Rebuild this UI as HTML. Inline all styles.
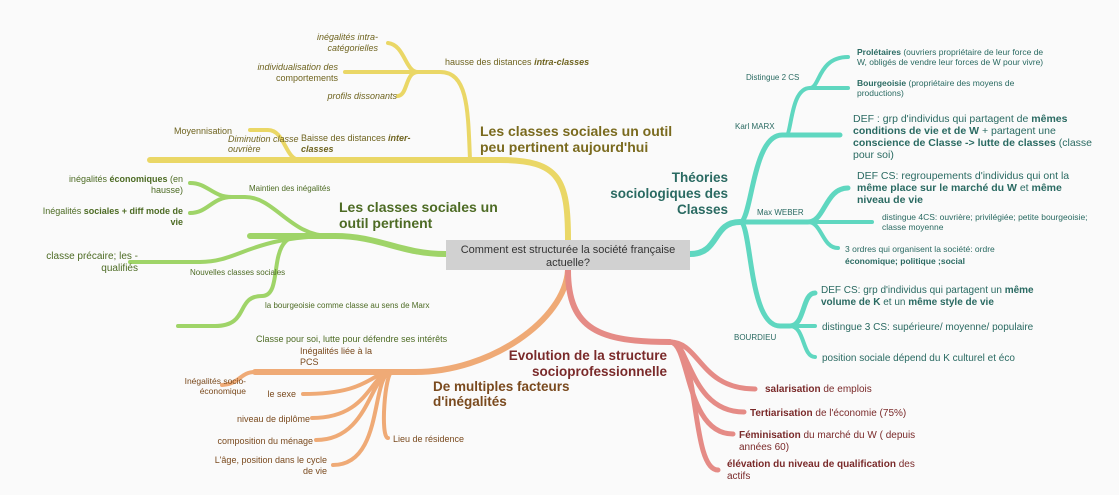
<!DOCTYPE html>
<html><head><meta charset="utf-8"><style>
html,body{margin:0;padding:0;background:#fafafa;}
svg{display:block;font-family:"Liberation Sans",sans-serif;}
</style></head><body>
<svg width="1119" height="495" viewBox="0 0 1119 495" xmlns="http://www.w3.org/2000/svg">
<rect width="1119" height="495" fill="#fafafa"/>
<g fill="none" stroke-linecap="round">
<!-- yellow -->
<g stroke="#ead766">
<path d="M568 240 C568 180 560 160 500 160 L150 160" stroke-width="6"/>
<path d="M470 160 C468 110 468 72 440 72 L412 72" stroke-width="4"/>
<path d="M418 72 C405 72 405 45 388 43" stroke-width="4"/>
<path d="M418 72 L345 72" stroke-width="4"/>
<path d="M418 72 C405 72 408 95 398 96" stroke-width="4"/>
<path d="M300 160 C285 160 285 130 268 130 L250 130" stroke-width="4"/>
</g>
<!-- green -->
<g stroke="#9fd468">
<path d="M446 254 C400 254 380 236 335 236 L250 236" stroke-width="6"/>
<path d="M330 236 C290 236 275 197 245 197 L228 197" stroke-width="4"/>
<path d="M232 197 C212 197 208 183 190 183" stroke-width="4"/>
<path d="M232 197 C212 197 208 213 190 213" stroke-width="4"/>
<path d="M335 236 C250 236 240 262 200 262 L130 262" stroke-width="4"/>
<path d="M300 236 C265 236 285 296 262 296 C235 296 250 326 215 326 L178 326" stroke-width="4"/>
</g>
<!-- orange -->
<g stroke="#efaa76">
<path d="M568 270 C565 320 490 372 415 372 L255 372" stroke-width="6"/>
<path d="M255 372 C240 372 240 384 222 385" stroke-width="4"/>
<path d="M392 372 C370 372 370 394 303 394" stroke-width="4"/>
<path d="M392 372 C370 372 370 418 312 418" stroke-width="4"/>
<path d="M392 372 C370 372 370 440 316 440" stroke-width="4"/>
<path d="M392 372 C370 372 385 465 333 465" stroke-width="4"/>
<path d="M392 372 C385 372 380 438 388 438" stroke-width="4"/>
</g>
<!-- red -->
<g stroke="#e58b86">
<path d="M568 270 C568 330 600 342 670 342" stroke-width="6"/>
<path d="M670 342 C700 342 700 389 755 389" stroke-width="5"/>
<path d="M670 342 C690 342 690 412 744 412" stroke-width="5"/>
<path d="M670 342 C690 342 685 434 733 434" stroke-width="5"/>
<path d="M670 342 C700 342 690 470 718 470" stroke-width="5"/>
</g>
<!-- teal -->
<g stroke="#5fd7c0">
<path d="M690 254 C720 254 712 222 740 222" stroke-width="6"/>
<path d="M740 222 C752 222 752 135 782 135 L840 135" stroke-width="5"/>
<path d="M786 135 C792 135 790 88 810 88 L848 88" stroke-width="4"/>
<path d="M810 88 C820 88 818 57 848 57" stroke-width="4"/>
<path d="M740 222 L808 222 C825 222 825 188 848 188" stroke-width="5"/>
<path d="M808 222 L872 222" stroke-width="4"/>
<path d="M808 222 C822 222 822 248 838 248" stroke-width="4"/>
<path d="M740 222 C752 222 748 326 780 326 L790 326 C805 326 802 293 815 293" stroke-width="5"/>
<path d="M790 326 L815 326" stroke-width="4"/>
<path d="M790 326 C805 326 802 357 815 357" stroke-width="4"/>
</g>
</g>
<!-- center -->
<rect x="446" y="240" width="244" height="30" fill="#d1d1d1"/>
<text x="568" y="253" font-size="11" fill="#333" text-anchor="middle">Comment est structurée la société française</text>
<text x="568" y="266" font-size="11" fill="#333" text-anchor="middle">actuelle?</text>

<!-- yellow text -->
<g fill="#6f6420" font-size="9">
<text x="378" y="40" text-anchor="end" font-style="italic">inégalités intra-</text>
<text x="378" y="51" text-anchor="end" font-style="italic">catégorielles</text>
<text x="338" y="70" text-anchor="end" font-style="italic">individualisation des</text>
<text x="338" y="81" text-anchor="end">comportements</text>
<text x="397" y="99" text-anchor="end" font-style="italic">profils dissonants</text>
<text x="445" y="65">hausse des distances <tspan font-weight="bold" font-style="italic">intra-classes</tspan></text>
<text x="174" y="134">Moyennisation</text>
<text x="228" y="142" font-style="italic">Diminution classe</text>
<text x="228" y="152" font-style="italic">ouvrière</text>
<text x="301" y="141">Baisse des distances <tspan font-weight="bold" font-style="italic">inter-</tspan></text>
<text x="301" y="152" font-weight="bold" font-style="italic">classes</text>
<text x="480" y="136" font-size="14" font-weight="bold" fill="#7a6a1e">Les classes sociales un outil</text>
<text x="480" y="152" font-size="14" font-weight="bold" fill="#7a6a1e">peu pertinent aujourd'hui</text>
</g>
<!-- green text -->
<g fill="#4d6b24" font-size="9">
<text x="183" y="182" text-anchor="end">inégalités <tspan font-weight="bold">économiques</tspan> (en</text>
<text x="183" y="193" text-anchor="end">hausse)</text>
<text x="183" y="214" text-anchor="end">Inégalités <tspan font-weight="bold">sociales + diff mode de</tspan></text>
<text x="183" y="225" text-anchor="end" font-weight="bold">vie</text>
<text x="249" y="191" font-size="8">Maintien des inégalités</text>
<text x="339" y="212" font-size="14" font-weight="bold">Les classes sociales un</text>
<text x="339" y="228" font-size="14" font-weight="bold">outil pertinent</text>
<text x="138" y="259" font-size="10" text-anchor="end">classe précaire; les -</text>
<text x="138" y="271" font-size="10" text-anchor="end">qualifiés</text>
<text x="190" y="275" font-size="8">Nouvelles classes sociales</text>
<text x="265" y="308" font-size="8">la bourgeoisie comme classe au sens de Marx</text>
<text x="256" y="342">Classe pour soi, lutte pour défendre ses intérêts</text>
</g>
<!-- orange text -->
<g fill="#7a4a1e" font-size="9">
<text x="300" y="354">Inégalités liée à la</text>
<text x="300" y="365">PCS</text>
<text x="246" y="384" font-size="8.5" text-anchor="end">Inégalités socio-</text>
<text x="246" y="394" font-size="8.5" text-anchor="end">économique</text>
<text x="433" y="391" font-size="13.5" font-weight="bold">De multiples facteurs</text>
<text x="433" y="406" font-size="13.5" font-weight="bold">d'inégalités</text>
<text x="296" y="397" text-anchor="end">le sexe</text>
<text x="310" y="422" text-anchor="end">niveau de diplôme</text>
<text x="313" y="444" text-anchor="end">composition du ménage</text>
<text x="327" y="463" text-anchor="end">L'âge, position dans le cycle</text>
<text x="327" y="474" text-anchor="end">de vie</text>
<text x="393" y="442">Lieu de résidence</text>
</g>
<!-- red text -->
<g fill="#7a2a2a" font-size="10">
<text x="667" y="360" font-size="13.5" font-weight="bold" text-anchor="end">Evolution de la structure</text>
<text x="667" y="376" font-size="13.5" font-weight="bold" text-anchor="end">socioprofessionnelle</text>
<text x="765" y="392"><tspan font-weight="bold">salarisation</tspan> de emplois</text>
<text x="750" y="416"><tspan font-weight="bold">Tertiarisation</tspan> de l'économie (75%)</text>
<text x="739" y="438"><tspan font-weight="bold">Féminisation</tspan> du marché du W ( depuis</text>
<text x="739" y="450">années 60)</text>
<text x="727" y="467"><tspan font-weight="bold">élévation du niveau de qualification</tspan> des</text>
<text x="727" y="479">actifs</text>
</g>
<!-- teal text -->
<g fill="#2a6a62" font-size="9">
<text x="728" y="182" font-size="13.5" font-weight="bold" text-anchor="end">Théories</text>
<text x="728" y="198" font-size="13.5" font-weight="bold" text-anchor="end">sociologiques des</text>
<text x="728" y="214" font-size="13.5" font-weight="bold" text-anchor="end">Classes</text>
<text x="746" y="80" font-size="8">Distingue 2 CS</text>
<text x="735" y="129" font-size="8">Karl MARX</text>
<text x="757" y="215" font-size="8">Max WEBER</text>
<text x="734" y="340" font-size="8">BOURDIEU</text>
<text x="857" y="55" font-size="8.5"><tspan font-weight="bold">Prolétaires</tspan> (ouvriers propriétaire de leur force de</text>
<text x="857" y="65" font-size="8.5">W, obligés de vendre leur forces de W pour vivre)</text>
<text x="857" y="86" font-size="8.5"><tspan font-weight="bold">Bourgeoisie</tspan> (propriétaire des moyens de</text>
<text x="857" y="96" font-size="8.5">productions)</text>
<text x="853" y="122" font-size="10.5">DEF : grp d'individus qui partagent de <tspan font-weight="bold">mêmes</tspan></text>
<text x="853" y="134" font-size="10.5" font-weight="bold">conditions de vie et de W <tspan font-weight="normal">+ partagent une</tspan></text>
<text x="853" y="146" font-size="10.5" font-weight="bold">conscience de Classe -&gt; lutte de classes <tspan font-weight="normal">(classe</tspan></text>
<text x="853" y="158" font-size="10.5">pour soi)</text>
<text x="857" y="179" font-size="10.5">DEF CS: regroupements d'individus qui ont la</text>
<text x="857" y="191" font-size="10.5" font-weight="bold">même place sur le marché du W <tspan font-weight="normal">et</tspan> même</text>
<text x="857" y="203" font-size="10.5" font-weight="bold">niveau de vie</text>
<text x="882" y="220" font-size="8.5">distingue 4CS: ouvrière; privilégiée; petite bourgeoisie;</text>
<text x="882" y="230" font-size="8.5">classe moyenne</text>
<text x="845" y="252" font-size="8.5">3 ordres qui organisent la société: ordre</text>
<text x="845" y="264" font-size="8.5" font-weight="bold">économique; politique ;social</text>
<text x="821" y="293" font-size="10">DEF CS: grp d'individus qui partagent un <tspan font-weight="bold">même</tspan></text>
<text x="821" y="305" font-size="10" font-weight="bold">volume de K <tspan font-weight="normal">et un</tspan> même style de vie</text>
<text x="822" y="330" font-size="10">distingue 3 CS: supérieure/ moyenne/ populaire</text>
<text x="822" y="361" font-size="10">position sociale dépend du K culturel et éco</text>
</g>
</svg>
</body></html>
